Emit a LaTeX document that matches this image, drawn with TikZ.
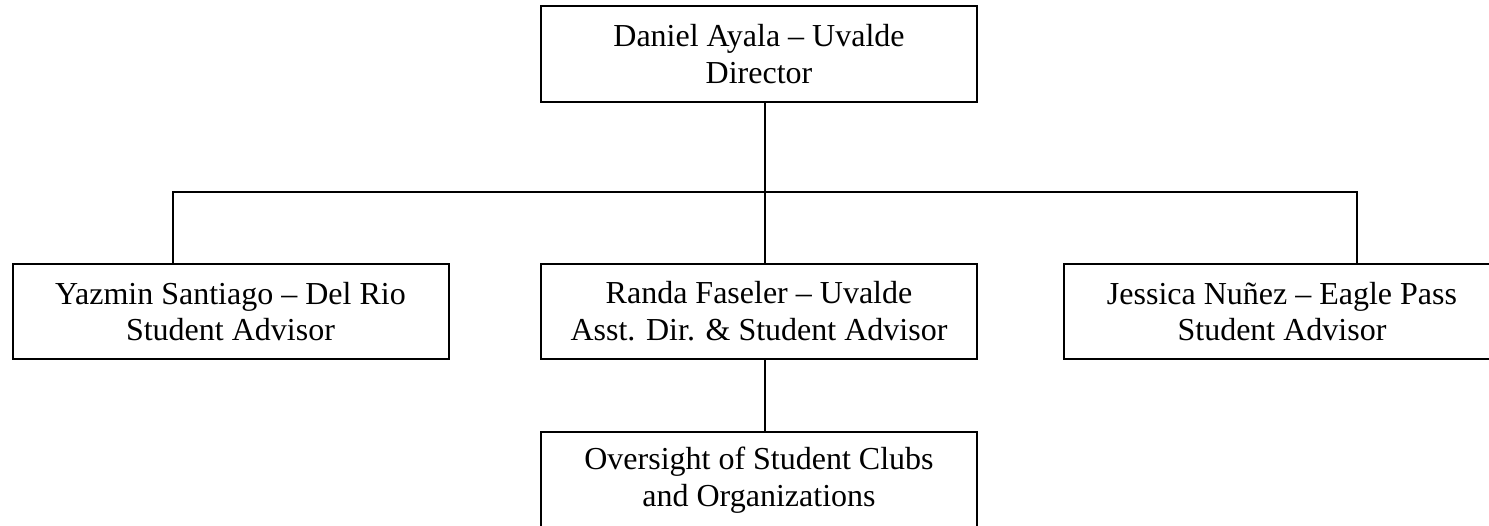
\documentclass[tikz,border=0pt]{standalone}
\usepackage{fontspec}
\setmainfont{Liberation Serif}
\usepackage{tikz}

\begin{document}
\begin{tikzpicture}[x=0.375pt, y=-0.375pt, line width=0.75pt,
    box/.style={draw, align=center, inner sep=0pt, outer sep=0pt,
      minimum width=163.5pt, minimum height=35.8pt,
      font=\fontsize{12}{13.8}\selectfont}]
  \useasboundingbox (0,0) rectangle (1489,526);
  \clip (0,0) rectangle (1489,526);
  % boxes
  \node[box] (director)  at (759,54)    {Daniel Ayala -- Uvalde\\Director};
  \node[box] (delrio)    at (230.5,311.5) {Yazmin Santiago -- Del Rio\\Student Advisor};
  \node[box] (uvalde)    at (759,311.5) {Randa Faseler -- Uvalde\\Asst. Dir. \& Student Advisor};
  \node[box] (eaglepass) at (1282,311.5) {Jessica Nuñez -- Eagle Pass\\Student Advisor};
  \node[box] (clubs)     at (759,480)   {Oversight of Student Clubs\\and Organizations};
  % connectors
  \coordinate (busL) at (173,192);
  \coordinate (busM) at (765,192);
  \coordinate (busR) at (1357,192);
  \draw (director.south -| busM) -- (uvalde.north -| busM);
  \draw (delrio.north -| busL) -- (busL) -- (busR) -- (eaglepass.north -| busR);
  \draw (uvalde.south -| busM) -- (clubs.north -| busM);
\end{tikzpicture}
\end{document}
